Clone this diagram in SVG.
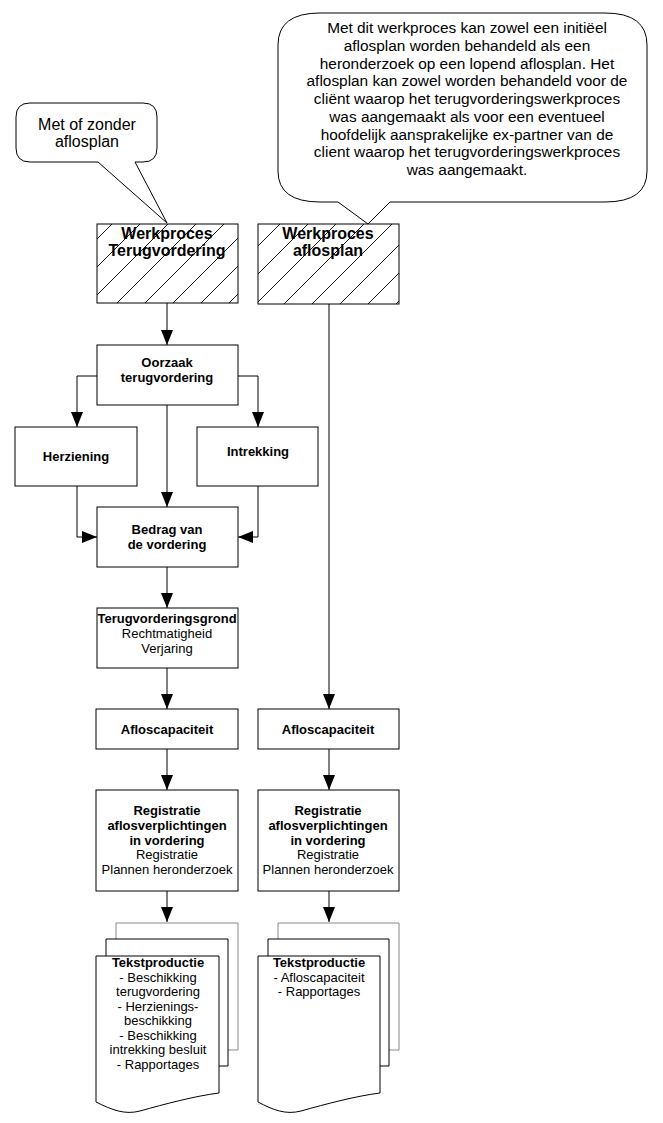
<svg xmlns="http://www.w3.org/2000/svg" width="663" height="1123" viewBox="0 0 663 1123">
<style>
.box{fill:#fff;stroke:#000;stroke-width:1}
.hb{fill:url(#hatch);stroke:#000;stroke-width:1}
.ln{fill:none;stroke:#000;stroke-width:1}
.doc{fill:#fff;stroke:#000;stroke-width:1}
.docg{fill:#fff;stroke:#888;stroke-width:1}
text{font-family:"Liberation Sans",Arial,sans-serif;text-anchor:middle;fill:#000}
.b{font-weight:bold;font-size:13px}
.r{font-size:13px}
.t{font-weight:bold;font-size:16px}
.c{font-size:15.4px}
</style>
<defs>
<pattern id="hatch" patternUnits="userSpaceOnUse" width="28" height="28">
<path d="M0,28 L28,0 M-7,7 L7,-7 M21,35 L35,21" stroke="#000" stroke-width="0.9"/>
</pattern>
<marker id="ah" markerUnits="userSpaceOnUse" markerWidth="16" markerHeight="13" refX="15" refY="6" orient="auto">
<path d="M0,0 L15,6 L0,12 z" fill="#000"/>
</marker>
</defs>
<rect width="663" height="1123" fill="#fff"/>

<g id="callout1">
<path class="box" d="M30,103 L143,103 Q157,103 157,117 L157,148 Q157,162 143,162 L135,162 L167,223 L98,162 L30,162 Q16,162 16,148 L16,117 Q16,103 30,103 Z"/>
<text x="87" y="130" style="font-size:16px">Met of zonder</text>
<text x="87" y="147" style="font-size:16px">aflosplan</text>
</g>

<g id="callout2">
<path class="box" d="M320,13 L605,13 Q647,13 647,45 L647,171 Q647,202 605,202 L390,202 L368,224 L338,202 L320,202 Q278,202 278,171 L278,45 Q278,13 320,13 Z"/>
<text class="c" x="467" y="33">Met dit werkproces kan zowel een initiëel</text>
<text class="c" x="467" y="51">aflosplan worden behandeld als een</text>
<text class="c" x="467" y="69">heronderzoek op een lopend aflosplan. Het</text>
<text class="c" x="467" y="86">aflosplan kan zowel worden behandeld voor de</text>
<text class="c" x="467" y="104">cliënt waarop het terugvorderingswerkproces</text>
<text class="c" x="467" y="122">was aangemaakt als voor een eventueel</text>
<text class="c" x="467" y="140">hoofdelijk aansprakelijke ex-partner van de</text>
<text class="c" x="467" y="157">client waarop het terugvorderingswerkproces</text>
<text class="c" x="467" y="175">was aangemaakt.</text>
</g>

<g id="wp-terugvordering">
<rect class="hb" x="97" y="224" width="141" height="79"/>
<text class="t" x="167" y="239">Werkproces</text>
<text class="t" x="167" y="256">Terugvordering</text>
</g>

<g id="wp-aflosplan">
<rect class="hb" x="258" y="224" width="141" height="80"/>
<text class="t" x="328" y="239">Werkproces</text>
<text class="t" x="328" y="256">aflosplan</text>
</g>

<g id="oorzaak">
<rect class="box" x="97" y="345" width="141" height="60"/>
<text class="b" x="167" y="367">Oorzaak</text>
<text class="b" x="167" y="382">terugvordering</text>
</g>

<g id="herziening">
<rect class="box" x="15" y="427" width="122" height="59"/>
<text class="b" x="76" y="461">Herziening</text>
</g>

<g id="intrekking">
<rect class="box" x="197" y="427" width="121" height="59"/>
<text class="b" x="258" y="456">Intrekking</text>
</g>

<g id="bedrag">
<rect class="box" x="97" y="507" width="141" height="60"/>
<text class="b" x="167" y="534">Bedrag van</text>
<text class="b" x="167" y="549">de vordering</text>
</g>

<g id="grond">
<rect class="box" x="97" y="608" width="141" height="60"/>
<text class="b" x="167" y="623">Terugvorderingsgrond</text>
<text class="r" x="167" y="638">Rechtmatigheid</text>
<text class="r" x="167" y="653">Verjaring</text>
</g>

<g id="afloscap-left">
<rect class="box" x="96" y="709" width="142" height="40"/>
<text class="b" x="167" y="734">Afloscapaciteit</text>
</g>

<g id="afloscap-right">
<rect class="box" x="258" y="709" width="141" height="40"/>
<text class="b" x="328" y="734">Afloscapaciteit</text>
</g>

<g id="registratie-left">
<rect class="box" x="96" y="790" width="142" height="101"/>
<text class="b" x="167" y="815">Registratie</text>
<text class="b" x="167" y="830">aflosverplichtingen</text>
<text class="b" x="167" y="845">in vordering</text>
<text class="r" x="167" y="859">Registratie</text>
<text class="r" x="167" y="874">Plannen heronderzoek</text>
</g>

<g id="registratie-right">
<rect class="box" x="258" y="790" width="141" height="101"/>
<text class="b" x="328" y="815">Registratie</text>
<text class="b" x="328" y="830">aflosverplichtingen</text>
<text class="b" x="328" y="845">in vordering</text>
<text class="r" x="328" y="859">Registratie</text>
<text class="r" x="328" y="874">Plannen heronderzoek</text>
</g>

<g id="docs-left">
<path class="docg" d="M116,939 L116,923 L238,923 L238,1050 L228,1050"/>
<path class="doc" d="M106,956 L106,939 L228,939 L228,1066 L219,1066"/>
<path class="doc" d="M96,956 L219,956 L219,1093 C195,1096 165,1104 140,1111 C125,1115 112,1110 96,1102 Z"/>
<text class="b" x="158" y="967">Tekstproductie</text>
<text class="r" x="158" y="981.5">- Beschikking</text>
<text class="r" x="158" y="996">terugvordering</text>
<text class="r" x="158" y="1010.5">- Herzienings-</text>
<text class="r" x="158" y="1025">beschikking</text>
<text class="r" x="158" y="1039.5">- Beschikking</text>
<text class="r" x="158" y="1054">intrekking besluit</text>
<text class="r" x="158" y="1068.5">- Rapportages</text>
</g>

<g id="docs-right">
<path class="docg" d="M278,939 L278,923 L399,923 L399,1050 L389,1050"/>
<path class="doc" d="M268,956 L268,939 L389,939 L389,1066 L380,1066"/>
<path class="doc" d="M258,956 L380,956 L380,1093 C356,1096 326,1104 301,1111 C286,1115 273,1110 258,1102 Z"/>
<text class="b" x="319" y="967">Tekstproductie</text>
<text class="r" x="319" y="981.5">- Afloscapaciteit</text>
<text class="r" x="319" y="996">- Rapportages</text>
</g>

<g id="connectors">
<path class="ln" d="M167,303 L167,345" marker-end="url(#ah)"/>
<path class="ln" d="M97,376 L77,376 L77,427" marker-end="url(#ah)"/>
<path class="ln" d="M238,376 L258,376 L258,427" marker-end="url(#ah)"/>
<path class="ln" d="M167,405 L167,507" marker-end="url(#ah)"/>
<path class="ln" d="M77,486 L77,537 L97,537" marker-end="url(#ah)"/>
<path class="ln" d="M258,486 L258,537 L238,537" marker-end="url(#ah)"/>
<path class="ln" d="M167,567 L167,608" marker-end="url(#ah)"/>
<path class="ln" d="M167,668 L167,709" marker-end="url(#ah)"/>
<path class="ln" d="M329,304 L329,709" marker-end="url(#ah)"/>
<path class="ln" d="M167,749 L167,790" marker-end="url(#ah)"/>
<path class="ln" d="M329,749 L329,790" marker-end="url(#ah)"/>
<path class="ln" d="M167,891 L167,922" marker-end="url(#ah)"/>
<path class="ln" d="M329,891 L329,922" marker-end="url(#ah)"/>
</g>
</svg>
